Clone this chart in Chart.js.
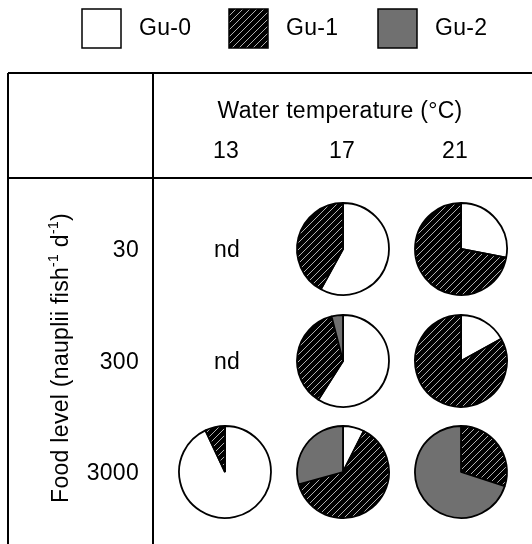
<!DOCTYPE html>
<html>
<head>
<meta charset="utf-8">
<script src="https://cdn.jsdelivr.net/npm/chart.js@4.4.0/dist/chart.umd.min.js"></script>
<style>
  html, body { margin: 0; padding: 0; background: #fff; }
  #wrap { position: relative; width: 532px; height: 544px; overflow: hidden; }
  #frame { position: absolute; left: 0; top: 0; }
  .pie { position: absolute; }
</style>
</head>
<body>
<div id="wrap"><canvas id="frame" width="532" height="544"></canvas></div>
<script>
// Genotype composition (% of fish) per food level (rows) and water temperature (columns).
// null marks a treatment that was not determined ("nd").
const seriesNames = ['Gu-0', 'Gu-1', 'Gu-2'];
const temperatures = ['13', '17', '21'];
const foodLevels = ['30', '300', '3000'];
const gu0 = [[null, 58, 28], [null, 59, 17], [93, 7.5, 0]];
const gu1 = [[null, 42, 72], [null, 37, 83], [7, 63.5, 30]];
const gu2 = [[null, 0, 0], [null, 4, 0], [0, 29.5, 70]];

// grid layout (pixels)
const colX = [225, 343, 461];
const colLabelX = [226, 342, 455];
const rowY = [249, 361, 472];
const pieR = 46;
const FONT = '"Liberation Sans", Arial, Helvetica, sans-serif';
const FONT_SIZE = 23;
const SPACING = '0.3px';

// diagonal hatch used for Gu-1
function makeHatch(ctx) {
  const s = 7;
  const c = document.createElement('canvas');
  c.width = s; c.height = s;
  const g = c.getContext('2d');
  g.fillStyle = '#000';
  g.fillRect(0, 0, s, s);
  g.strokeStyle = '#b0b0b0';
  g.lineWidth = 1;
  g.beginPath();
  g.moveTo(-1, s + 1); g.lineTo(s + 1, -1);
  g.moveTo(-1, 1); g.lineTo(1, -1);
  g.moveTo(s - 1, s + 1); g.lineTo(s + 1, s - 1);
  g.stroke();
  return ctx.createPattern(c, 'repeat');
}

const frame = document.getElementById('frame');
const fctx = frame.getContext('2d');
const fills = ['#ffffff', makeHatch(fctx), '#707070'];

// pies
const wrap = document.getElementById('wrap');
for (let r = 0; r < foodLevels.length; r++) {
  for (let c = 0; c < temperatures.length; c++) {
    if (gu0[r][c] === null) continue;
    const size = 2 * pieR + 8;
    const cv = document.createElement('canvas');
    cv.className = 'pie';
    cv.width = size; cv.height = size;
    cv.style.left = (colX[c] - size / 2) + 'px';
    cv.style.top = (rowY[r] - size / 2) + 'px';
    wrap.appendChild(cv);
    const ctx = cv.getContext('2d');
    new Chart(ctx, {
      type: 'pie',
      data: {
        labels: seriesNames,
        datasets: [{
          data: [gu0[r][c], gu1[r][c], gu2[r][c]],
          backgroundColor: [fills[0], makeHatch(ctx), fills[2]],
          borderColor: '#000',
          borderWidth: 1.8
        }]
      },
      options: {
        responsive: false,
        animation: false,
        radius: pieR,
        layout: { padding: 0 },
        plugins: { legend: { display: false }, tooltip: { enabled: false } }
      }
    });
  }
}

// table frame, labels and legend
function drawFrame() {
  const g = fctx;
  g.strokeStyle = '#000';
  g.lineWidth = 2;
  g.beginPath();
  g.moveTo(8, 73); g.lineTo(540, 73);
  g.moveTo(8, 73); g.lineTo(8, 550);
  g.moveTo(153, 73); g.lineTo(153, 550);
  g.moveTo(8, 178); g.lineTo(540, 178);
  g.stroke();

  const big = FONT_SIZE + 'px ' + FONT, small = '14px ' + FONT;
  g.letterSpacing = SPACING;
  g.fillStyle = '#000';
  g.font = big;
  g.textBaseline = 'middle';
  g.textAlign = 'center';
  g.fillText('Water temperature (\u00B0C)', 340, 112);
  temperatures.forEach((t, i) => g.fillText(t, colLabelX[i], 152));

  for (let r = 0; r < foodLevels.length; r++) {
    for (let c = 0; c < temperatures.length; c++) {
      if (gu0[r][c] === null) g.fillText('nd', colX[c] + 2, rowY[r] + 2);
    }
  }
  g.textAlign = 'right';
  foodLevels.forEach((f, i) => g.fillText(f, 139, rowY[i] + 2));

  // rotated axis title with superscripts
  const parts = [
    ['Food level (nauplii fish', false], ['-1', true], [' d', false], ['-1', true], [')', false]
  ];
  let total = 0;
  parts.forEach(p => { g.font = p[1] ? small : big; total += g.measureText(p[0]).width; });
  g.save();
  g.translate(60, 358);
  g.rotate(-Math.PI / 2);
  g.textAlign = 'left';
  g.textBaseline = 'alphabetic';
  let x = -total / 2;
  parts.forEach(p => {
    g.font = p[1] ? small : big;
    g.fillText(p[0], x, p[1] ? -2 : 8);
    x += g.measureText(p[0]).width;
  });
  g.restore();

  // legend
  const boxX = [82, 229, 378];
  g.font = big;
  g.textAlign = 'left';
  g.textBaseline = 'middle';
  seriesNames.forEach((n, i) => {
    g.fillStyle = fills[i];
    g.fillRect(boxX[i], 9, 39, 39);
    g.lineWidth = 1.5;
    g.strokeStyle = '#000';
    g.strokeRect(boxX[i], 9, 39, 39);
    g.fillStyle = '#000';
    g.fillText(n, boxX[i] + 57, 29);
  });
}
drawFrame();
</script>
</body>
</html>
